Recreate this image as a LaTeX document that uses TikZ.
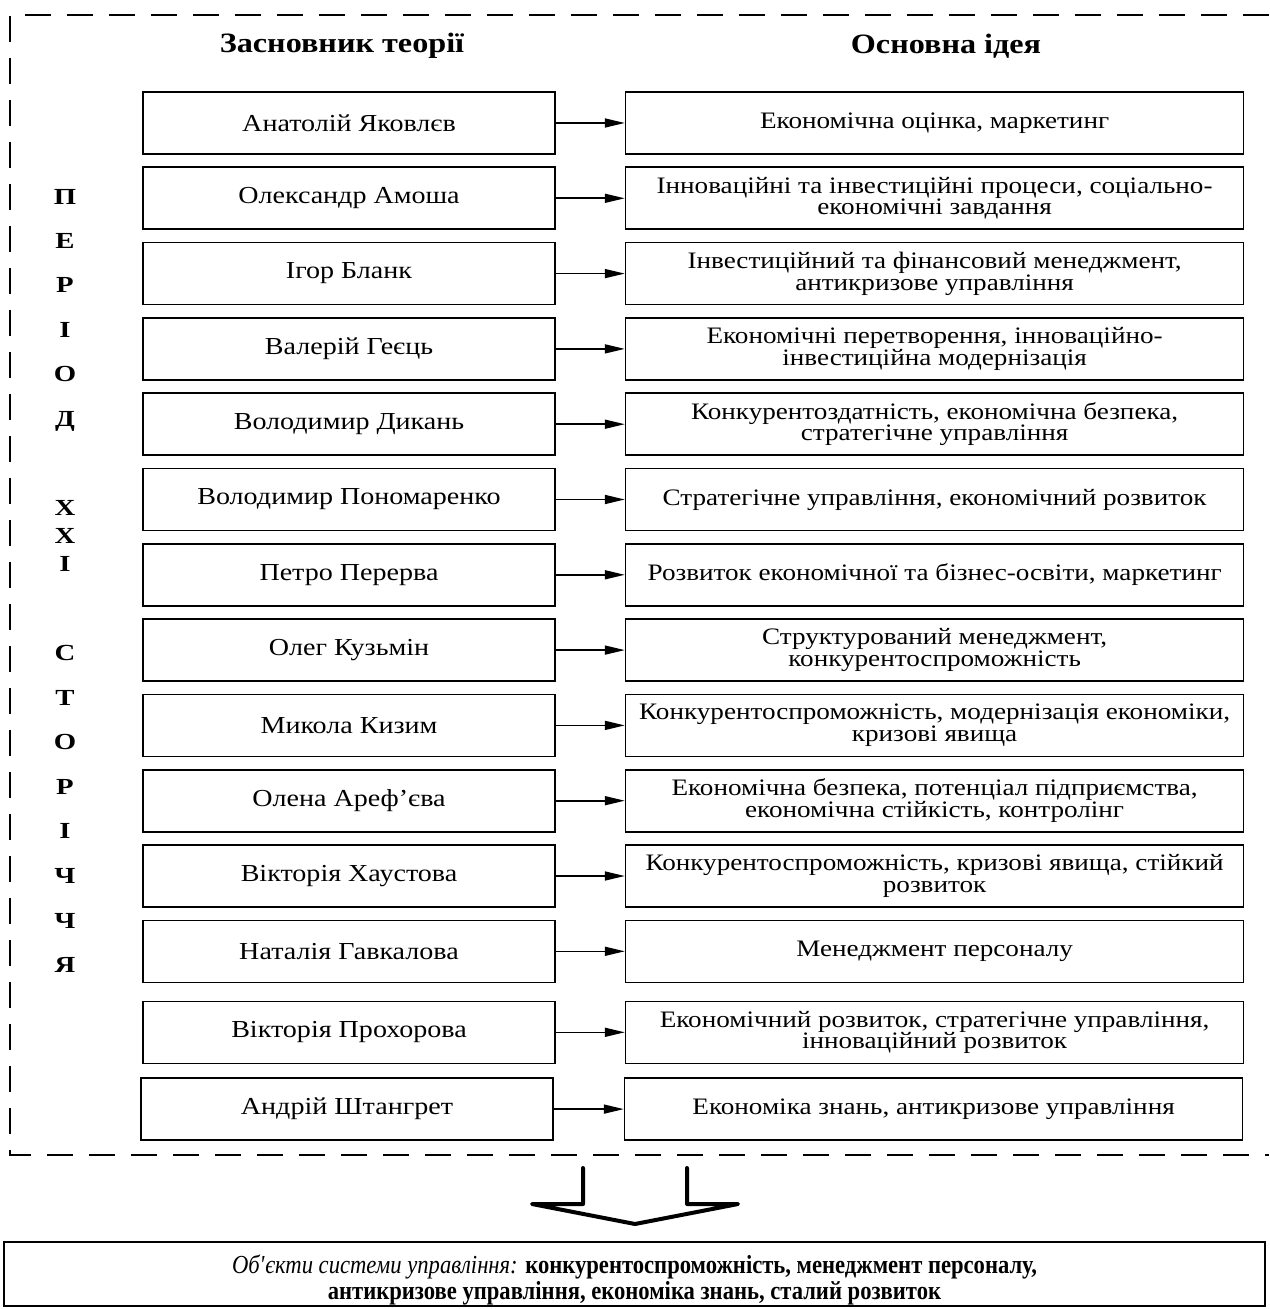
\documentclass[tikz,border=0pt]{standalone}
\usepackage{fontspec}
\setmainfont{Liberation Serif}
\newfontfamily\wideserif[FakeStretch=1.15]{Liberation Serif}
\newfontfamily\capserif[FakeStretch=1.25]{Liberation Serif}
\newfontfamily\narrowserif[FakeStretch=0.87]{Liberation Serif}
\usetikzlibrary{arrows.meta, positioning}

\begin{document}
\begin{tikzpicture}[x=0.5pt, y=-0.5pt, node distance=5.85pt and 34.5pt,
  founder/.style={draw, line width=0.8pt, minimum width=206pt, minimum height=31pt, inner sep=2pt, font=\wideserif\fontsize{12.2}{11}\selectfont},
  idea/.style={draw, line width=0.8pt, minimum width=309pt, minimum height=31pt, inner sep=2pt, align=center, font=\wideserif\fontsize{11.8}{10.8}\selectfont},
  head/.style={font=\wideserif\fontsize{14}{16}\bfseries\selectfont},
  letters/.style={align=center, inner sep=0pt, font=\capserif\bfseries\fontsize{11.5}{#1}\selectfont},
  link/.style={line width=0.8pt, -{Triangle[length=10pt, width=4.5pt]}}]
\useasboundingbox (0,0) rectangle (1269,1309);

% frame of the period
\draw[line width=0.75pt, dash pattern=on 13pt off 8pt] (1269,15) -- (10,15) -- (10,1155) -- (1269,1155);

\node[head] (h1) at (342,46) {Засновник теорії};
\node[head] (h2) at (946,46) {Основна ідея};

% founders
\node[founder] (n1) at (349,123) {Анатолій Яковлєв};
\node[founder, below=of n1] (n2) {Олександр Амоша};
\node[founder, below=of n2] (n3) {Ігор Бланк};
\node[founder, below=of n3] (n4) {Валерій Геєць};
\node[founder, below=of n4] (n5) {Володимир Дикань};
\node[founder, below=of n5] (n6) {Володимир Пономаренко};
\node[founder, below=of n6] (n7) {Петро Перерва};
\node[founder, below=of n7] (n8) {Олег Кузьмін};
\node[founder, below=of n8] (n9) {Микола Кизим};
\node[founder, below=of n9] (n10) {Олена Ареф’єва};
\node[founder, below=of n10] (n11) {Вікторія Хаустова};
\node[founder, below=of n11] (n12) {Наталія Гавкалова};
\node[founder, below=8.7pt of n12] (n13) {Вікторія Прохорова};
\node[founder, below=6.6pt of n13, xshift=-1pt] (n14) {Андрій Штангрет};

% ideas
\node[idea, right=of n1] (i1) {Економічна оцінка, маркетинг};
\node[idea, right=of n2] (i2) {Інноваційні та інвестиційні процеси, соціально-\\економічні завдання};
\node[idea, right=of n3] (i3) {Інвестиційний та фінансовий менеджмент,\\антикризове управління};
\node[idea, right=of n4] (i4) {Економічні перетворення, інноваційно-\\інвестиційна модернізація};
\node[idea, right=of n5] (i5) {Конкурентоздатність, економічна безпека,\\стратегічне управління};
\node[idea, right=of n6] (i6) {Стратегічне управління, економічний розвиток};
\node[idea, right=of n7] (i7) {Розвиток економічної та бізнес-освіти, маркетинг};
\node[idea, right=of n8] (i8) {Структурований менеджмент,\\конкурентоспроможність};
\node[idea, right=of n9] (i9) {Конкурентоспроможність, модернізація економіки,\\кризові явища};
\node[idea, right=of n10] (i10) {Економічна безпека, потенціал підприємства,\\економічна стійкість, контролінг};
\node[idea, right=of n11] (i11) {Конкурентоспроможність, кризові явища, стійкий\\розвиток};
\node[idea, right=of n12] (i12) {Менеджмент персоналу};
\node[idea, right=of n13] (i13) {Економічний розвиток, стратегічне управління,\\інноваційний розвиток};
\node[idea, right=35pt of n14] (i14) {Економіка знань, антикризове управління};

\foreach \i in {1,...,14}
  \draw[link] (n\i) -- (i\i);

% vertical caption
\node[letters=22.2pt] (per) at (65,310) {П\\Е\\Р\\І\\О\\Д};
\node[letters=14pt] (cent) at (65,536) {Х\\Х\\І};
\node[letters=22.3pt] (age) at (65,809) {С\\Т\\О\\Р\\І\\Ч\\Ч\\Я};

% big arrow
\draw[line width=2pt, line join=round, line cap=round] (583,1168) -- (583,1204) -- (532,1204)
  -- (635,1224) -- (738,1204) -- (687,1204) -- (687,1168);

\node[draw, line width=0.8pt, minimum width=630.5pt, minimum height=32pt] (objbox) at (634.5,1274) {};
\node[align=center, inner sep=0pt, font=\narrowserif\fontsize{13}{13}\selectfont]
  (obj) at ([yshift=-3pt]objbox.center)
  {\textit{Об\textquotesingle єкти системи управління:} \textbf{конкурентоспроможність, менеджмент персоналу,}\\
   \textbf{антикризове управління, економіка знань, сталий розвиток}};
\end{tikzpicture}
\end{document}
